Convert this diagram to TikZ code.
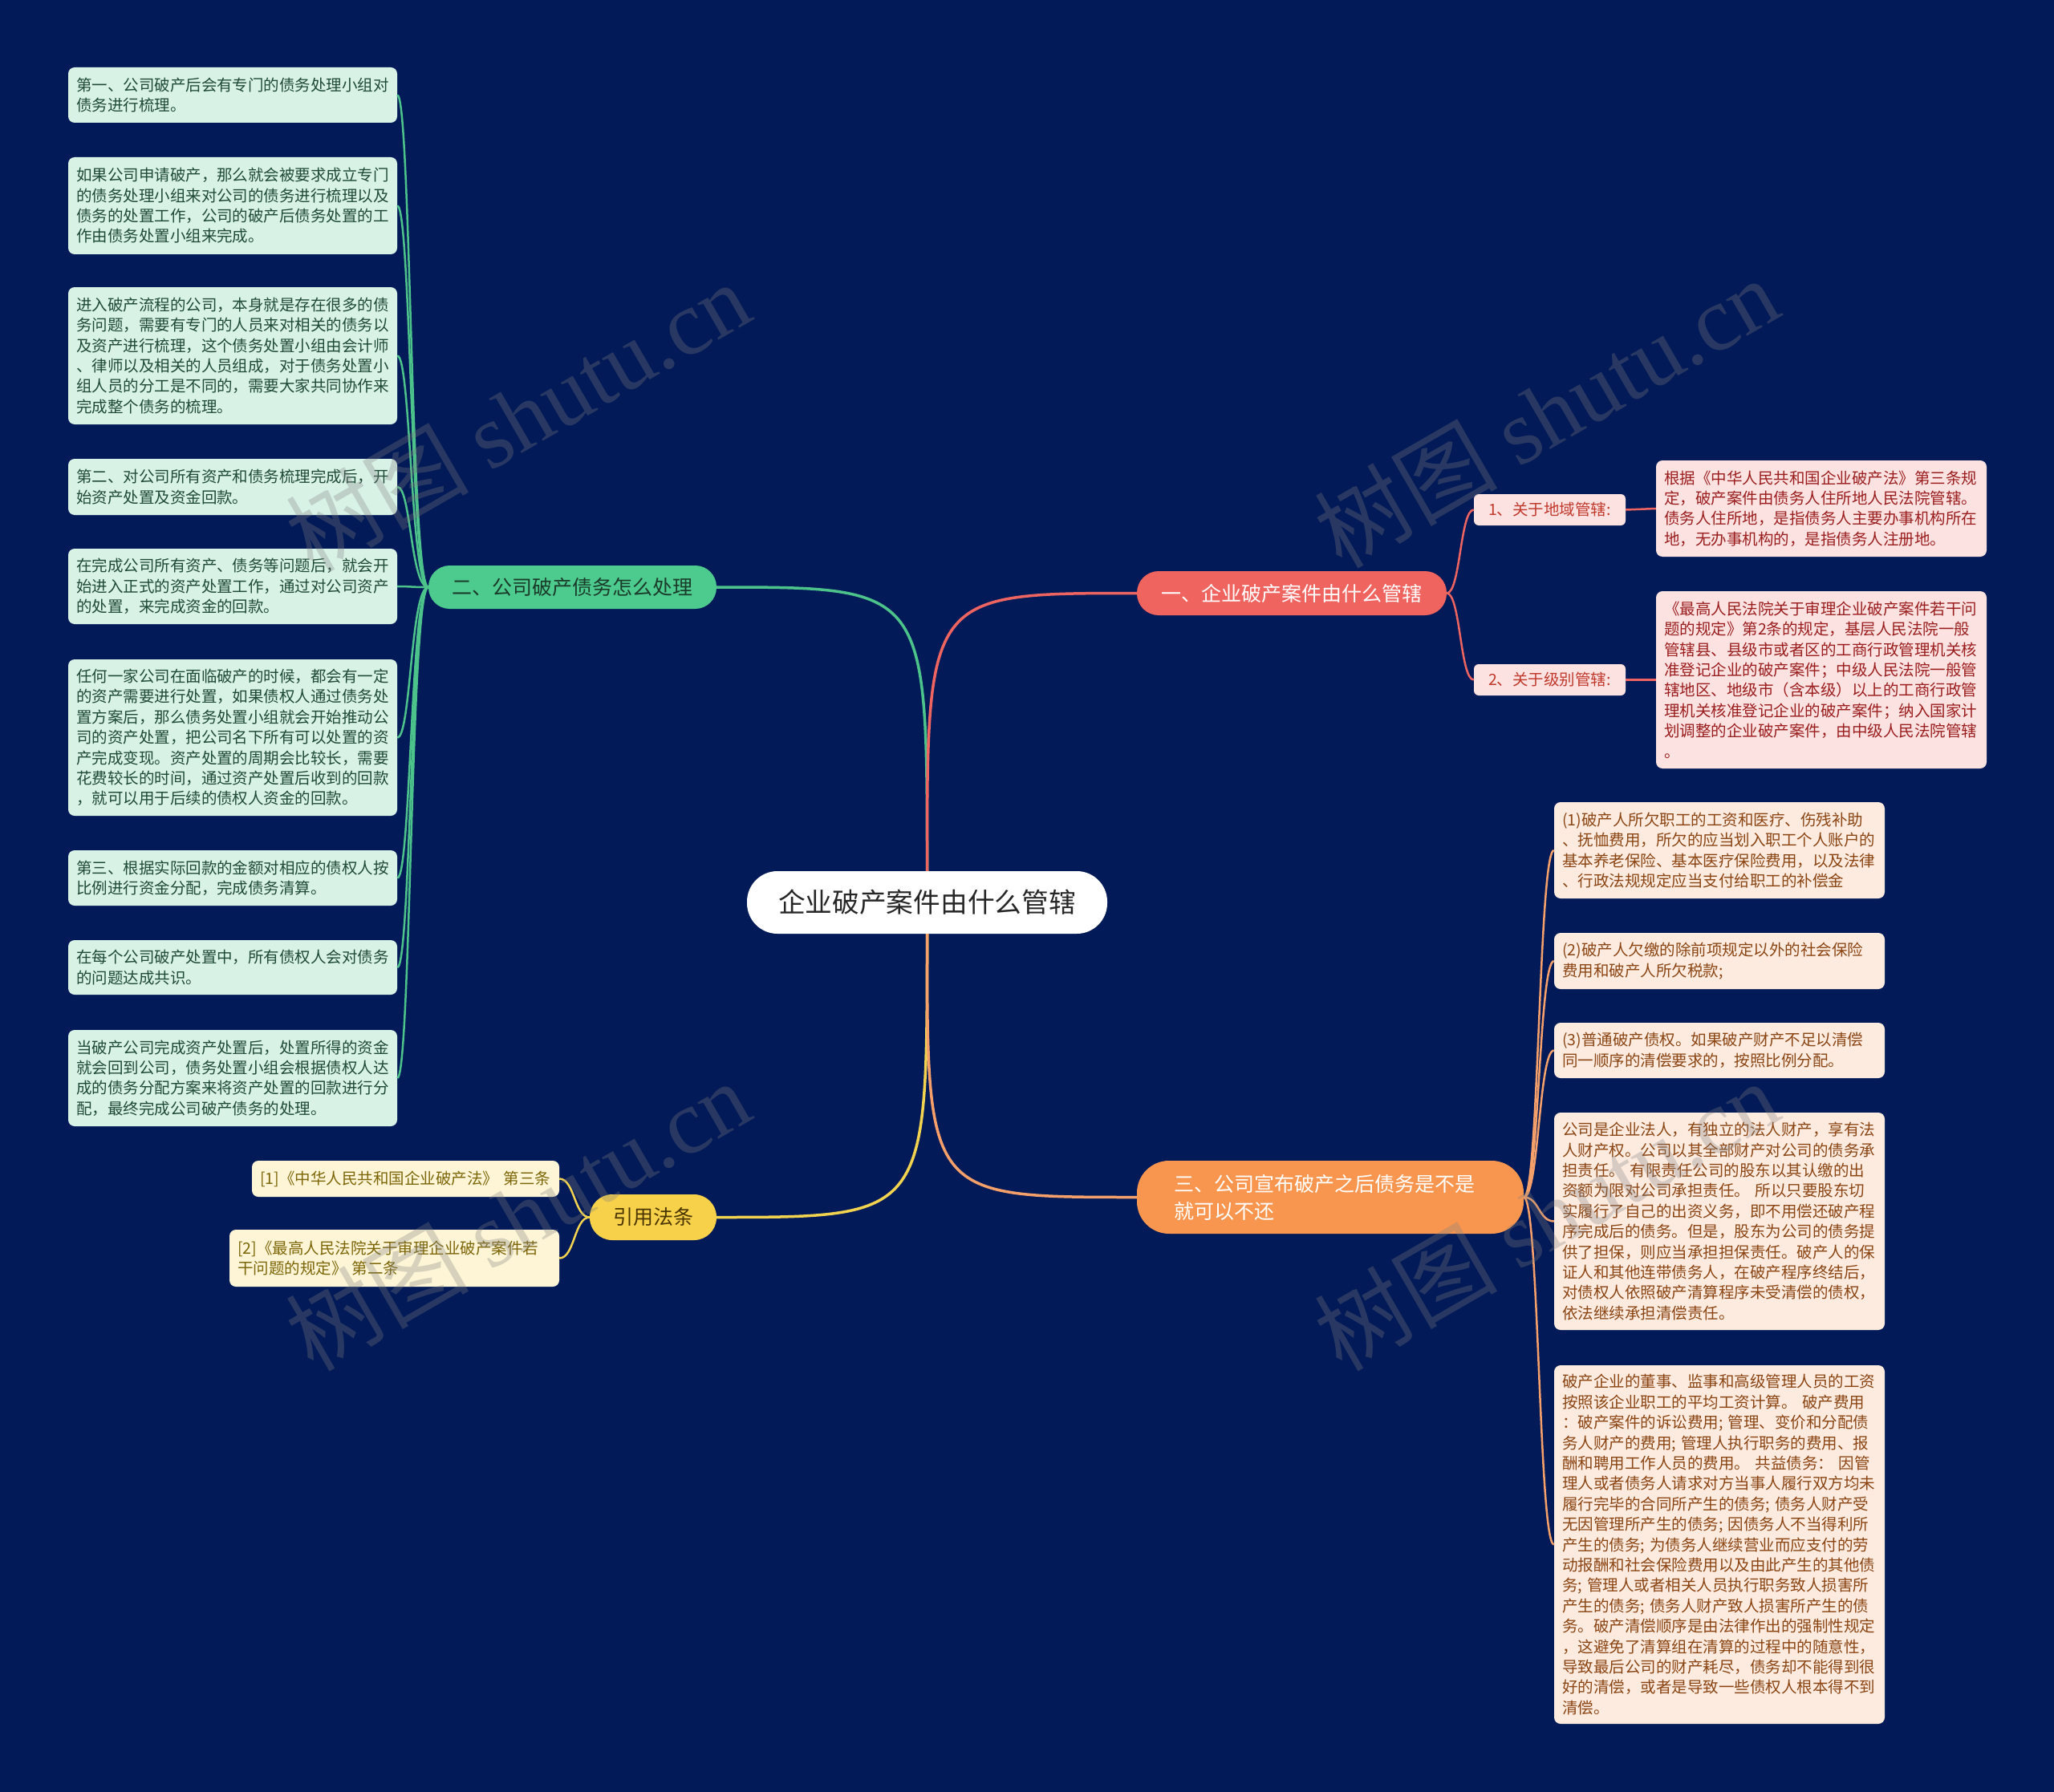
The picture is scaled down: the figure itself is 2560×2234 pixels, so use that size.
\documentclass[tikz,border=0pt]{standalone}
\usepackage{fontspec}
\setmainfont{Noto Sans CJK SC}
\newfontfamily\wmlatin{Liberation Serif}
\usetikzlibrary{calc}
\definecolor{bg}{HTML}{021A57}
\definecolor{gfill}{HTML}{4DCB8E}
\definecolor{gbtext}{HTML}{1B3B2A}
\definecolor{gline}{HTML}{4CC38A}
\definecolor{gleaf}{HTML}{D9F2E6}
\definecolor{gtext}{HTML}{1F4A36}
\definecolor{rfill}{HTML}{F0645F}
\definecolor{rline}{HTML}{EE6461}
\definecolor{rleaf}{HTML}{FDE2E2}
\definecolor{rtext}{HTML}{9B1E1E}
\definecolor{stext}{HTML}{C0392B}
\definecolor{ofill}{HTML}{F8964F}
\definecolor{oline}{HTML}{F5A06A}
\definecolor{oleaf}{HTML}{FDEBE0}
\definecolor{otext}{HTML}{8B4513}
\definecolor{yfill}{HTML}{F8D14A}
\definecolor{yline}{HTML}{F2D350}
\definecolor{yleaf}{HTML}{FDF5D6}
\definecolor{ytext}{HTML}{7D6608}
\definecolor{ybtext}{HTML}{4A3600}
\begin{document}
\begin{tikzpicture}[x=1pt,y=-1pt,
  leafbox/.style={rounded corners=8pt, inner xsep=10pt, inner ysep=0pt, align=left,
    font=\fontsize{19.5}{25.4}\selectfont},
  gbox/.style={leafbox, fill=gleaf, text=gtext, text width=390pt},
  rbox/.style={leafbox, fill=rleaf, text=rtext, text width=392pt},
  obox/.style={leafbox, fill=oleaf, text=otext, text width=392pt},
  ybox/.style={leafbox, fill=yleaf, text=ytext},
  subbox/.style={rounded corners=6pt, inner sep=0pt, fill=rleaf, text=stext,
    minimum width=189pt, minimum height=39pt, font=\fontsize{19.5}{25.4}\selectfont},
  branchbox/.style={inner sep=0pt, font=\fontsize{25}{34}\selectfont},
  mainline/.style={line width=3.5pt},
  leafline/.style={line width=2.5pt},
  wmark/.style={text=gray, opacity=0.3, font=\fontsize{114}{120}\selectfont, rotate=30}
]
\useasboundingbox (0,0) rectangle (2560,2234);
\fill[bg] (0,0) rectangle (2560,2234);

% centre
\node[fill=white, text=black!85, rounded corners=38pt, minimum width=449pt, minimum height=78pt,
  inner sep=0pt, font=\fontsize{33.7}{40}\selectfont] (c) at (1155.5,1125) {企业破产案件由什么管辖};

% branches
\node[branchbox, fill=gfill, text=gbtext, rounded corners=26.5pt, minimum width=359pt, minimum height=54pt] (b2) at (713.5,732) {二、公司破产债务怎么处理};
\node[branchbox, fill=rfill, text=white, rounded corners=27pt, minimum width=386pt, minimum height=55pt] (b1) at (1610,739.5) {一、企业破产案件由什么管辖};
\node[branchbox, fill=ofill, text=white, rounded corners=40pt, minimum height=91pt, text width=390pt, inner xsep=46pt, align=left] (b3) at (1658,1492.5) {三、公司宣布破产之后债务是不是\\就可以不还};
\node[branchbox, fill=yfill, text=ybtext, rounded corners=28pt, minimum width=158pt, minimum height=57pt] (b4) at (814,1517.5) {引用法条};

% left leaves
\node[gbox, minimum height=69pt] (l1) at (290,118.5) {第一、公司破产后会有专门的债务处理小组对\\债务进行梳理。};
\node[gbox, minimum height=121pt] (l2) at (290,256.5) {如果公司申请破产，那么就会被要求成立专门\\的债务处理小组来对公司的债务进行梳理以及\\债务的处置工作，公司的破产后债务处置的工\\作由债务处置小组来完成。};
\node[gbox, minimum height=171pt] (l3) at (290,443.5) {进入破产流程的公司，本身就是存在很多的债\\务问题，需要有专门的人员来对相关的债务以\\及资产进行梳理，这个债务处置小组由会计师\\、律师以及相关的人员组成，对于债务处置小\\组人员的分工是不同的，需要大家共同协作来\\完成整个债务的梳理。};
\node[gbox, minimum height=70pt] (l4) at (290,607) {第二、对公司所有资产和债务梳理完成后，开\\始资产处置及资金回款。};
\node[gbox, minimum height=94pt] (l5) at (290,731) {在完成公司所有资产、债务等问题后，就会开\\始进入正式的资产处置工作，通过对公司资产\\的处置，来完成资金的回款。};
\node[gbox, minimum height=195pt] (l6) at (290,919.5) {任何一家公司在面临破产的时候，都会有一定\\的资产需要进行处置，如果债权人通过债务处\\置方案后，那么债务处置小组就会开始推动公\\司的资产处置，把公司名下所有可以处置的资\\产完成变现。资产处置的周期会比较长，需要\\花费较长的时间，通过资产处置后收到的回款\\，就可以用于后续的债权人资金的回款。};
\node[gbox, minimum height=69pt] (l7) at (290,1094.5) {第三、根据实际回款的金额对相应的债权人按\\比例进行资金分配，完成债务清算。};
\node[gbox, minimum height=68pt] (l8) at (290,1206) {在每个公司破产处置中，所有债权人会对债务\\的问题达成共识。};
\node[gbox, minimum height=120pt] (l9) at (290,1344) {当破产公司完成资产处置后，处置所得的资金\\就会回到公司，债务处置小组会根据债权人达\\成的债务分配方案来将资产处置的回款进行分\\配，最终完成公司破产债务的处理。};

% sub nodes of branch 1
\node[subbox] (s1) at (1931.5,635.5) {1、关于地域管辖:};
\node[subbox] (s2) at (1931.5,847.5) {2、关于级别管辖:};

% pink leaves
\node[rbox, minimum height=120pt] (p1) at (2270,634) {根据《中华人民共和国企业破产法》第三条规\\定，破产案件由债务人住所地人民法院管辖。\\债务人住所地，是指债务人主要办事机构所在\\地，无办事机构的，是指债务人注册地。};
\node[rbox, minimum height=221pt] (p2) at (2270,847.5) {《最高人民法院关于审理企业破产案件若干问\\题的规定》第2条的规定，基层人民法院一般\\管辖县、县级市或者区的工商行政管理机关核\\准登记企业的破产案件；中级人民法院一般管\\辖地区、地级市（含本级）以上的工商行政管\\理机关核准登记企业的破产案件；纳入国家计\\划调整的企业破产案件，由中级人民法院管辖\\。};

% orange leaves
\node[obox, minimum height=120pt] (o1) at (2143,1060) {(1)破产人所欠职工的工资和医疗、伤残补助\\、抚恤费用，所欠的应当划入职工个人账户的\\基本养老保险、基本医疗保险费用，以及法律\\、行政法规规定应当支付给职工的补偿金};
\node[obox, minimum height=70pt] (o2) at (2143,1198) {(2)破产人欠缴的除前项规定以外的社会保险\\费用和破产人所欠税款;};
\node[obox, minimum height=69pt] (o3) at (2143,1309.5) {(3)普通破产债权。如果破产财产不足以清偿\\同一顺序的清偿要求的，按照比例分配。};
\node[obox, minimum height=271pt] (o4) at (2143,1522.5) {公司是企业法人，有独立的法人财产，享有法\\人财产权。公司以其全部财产对公司的债务承\\担责任。 有限责任公司的股东以其认缴的出\\资额为限对公司承担责任。 所以只要股东切\\实履行了自己的出资义务，即不用偿还破产程\\序完成后的债务。但是，股东为公司的债务提\\供了担保，则应当承担担保责任。破产人的保\\证人和其他连带债务人，在破产程序终结后，\\对债权人依照破产清算程序未受清偿的债权，\\依法继续承担清偿责任。};
\node[obox, minimum height=447pt] (o5) at (2143,1925.5) {破产企业的董事、监事和高级管理人员的工资\\按照该企业职工的平均工资计算。 破产费用\\：破产案件的诉讼费用; 管理、变价和分配债\\务人财产的费用; 管理人执行职务的费用、报\\酬和聘用工作人员的费用。 共益债务： 因管\\理人或者债务人请求对方当事人履行双方均未\\履行完毕的合同所产生的债务; 债务人财产受\\无因管理所产生的债务; 因债务人不当得利所\\产生的债务; 为债务人继续营业而应支付的劳\\动报酬和社会保险费用以及由此产生的其他债\\务; 管理人或者相关人员执行职务致人损害所\\产生的债务; 债务人财产致人损害所产生的债\\务。破产清偿顺序是由法律作出的强制性规定\\，这避免了清算组在清算的过程中的随意性，\\导致最后公司的财产耗尽，债务却不能得到很\\好的清偿，或者是导致一些债权人根本得不到\\清偿。};

% citation leaves
\node[ybox, text width=363pt, minimum height=45pt] (y1) at (505.5,1469.5) {[1]《中华人民共和国企业破产法》 第三条};
\node[ybox, text width=391pt, minimum height=71pt] (y2) at (491.5,1568.5) {[2]《最高人民法院关于审理企业破产案件若\\干问题的规定》 第二条};

% centre to branches
\draw[mainline, gline] (c.north) .. controls (c.north |- b2.east) .. (b2.east);
\draw[mainline, rline] (c.north) .. controls (c.north |- b1.west) .. (b1.west);
\draw[mainline, yline] (c.south) .. controls (c.south |- b4.east) .. (b4.east);
\draw[mainline, oline] (c.south) .. controls (c.south |- b3.west) .. (b3.west);

% branch 2 to leaves
\foreach \n in {l1,l2,l3,l4,l5,l6,l7,l8,l9}{
  \draw[leafline, gline] (b2.west) .. controls ($(b2.west)+(-22,0)$) and ($(\n.east)+(17,0)$) .. (\n.east);
}
% branch 1 to sub nodes
\foreach \n in {s1,s2}{
  \draw[leafline, rline] (b1.east) .. controls ($(b1.east)+(17,0)$) and ($(\n.west)+(-17,0)$) .. (\n.west);
}
\draw[leafline, rline] (s1.east) -- (p1.west);
\draw[leafline, rline] (s2.east) -- (p2.west);
% branch 3 to leaves
\foreach \n in {o1,o2,o3,o4,o5}{
  \draw[leafline, oline] (b3.east) .. controls ($(b3.east)+(19,0)$) and ($(\n.west)+(-19,0)$) .. (\n.west);
}
% branch 4 to leaves
\foreach \n in {y1,y2}{
  \draw[leafline, yline] (b4.west) .. controls ($(b4.west)+(-19,0)$) and ($(\n.east)+(19,0)$) .. (\n.east);
}

% watermarks
\node[wmark] (wm1) at (645,519) {树图 {\wmlatin shutu.cn}};
\node[wmark] (wm2) at (1927,514) {树图 {\wmlatin shutu.cn}};
\node[wmark] (wm3) at (645,1515) {树图 {\wmlatin shutu.cn}};
\node[wmark] (wm4) at (1927,1515) {树图 {\wmlatin shutu.cn}};
\end{tikzpicture}
\end{document}
